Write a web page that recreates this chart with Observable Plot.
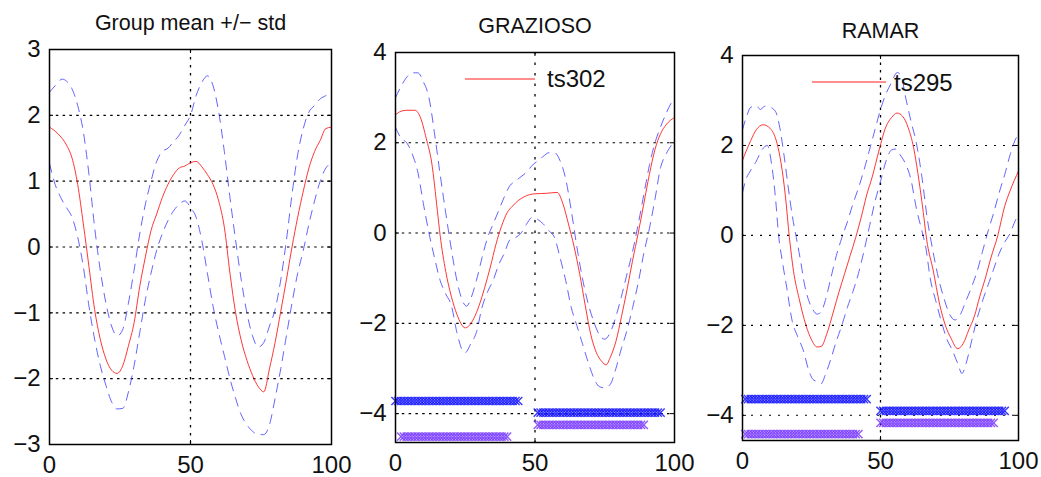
<!DOCTYPE html>
<html>
<head>
<meta charset="utf-8">
<script src="https://cdn.jsdelivr.net/npm/d3@7"></script>
<script src="https://cdn.jsdelivr.net/npm/@observablehq/plot@0.6"></script>
<style>
  body { margin: 0; background: #fff; }
  #chart { position: relative; width: 1041px; height: 477px; overflow: hidden; background: #fff;
           font-family: "Liberation Sans", Arial, sans-serif; }
  .panel { position: absolute; top: 0; }
  #legend { position: absolute; left: 0; top: 0; pointer-events: none; }
</style>
</head>
<body>
<div id="chart"></div>
<script>
// ---- axes ----
const xTicks = [0, 50, 100];
const groupYTicks = [-3, -2, -1, 0, 1, 2, 3];
const pieceYTicks = [-4, -2, 0, 2, 4];
const titles = ["Group mean +/\u2212 std", "GRAZIOSO", "RAMAR"];
const legendLabels = ["ts302", "ts295"];

// ---- group mean +/- std ----
const groupMeanX = [0, 3, 6, 8, 10, 12, 14, 16, 18, 20, 22, 24, 26, 28, 30, 32, 34, 36, 38, 40, 42, 44, 46, 48, 50,
  52, 54, 56, 58, 60, 62, 64, 66, 68, 70, 72, 74, 76, 78, 80, 82, 84, 86, 88, 90, 92, 94, 96, 98, 100];
const groupMeanY = [1.82, 1.72, 1.55, 1.35, 0.95, 0.35, -0.3, -0.95, -1.4, -1.7, -1.87, -1.92, -1.8, -1.5, -1.15,
  -0.6, -0.15, 0.25, 0.5, 0.75, 0.95, 1.1, 1.2, 1.23, 1.28, 1.3, 1.22, 1.1, 0.95, 0.7, 0.3, -0.4, -1.0, -1.42,
  -1.72, -1.95, -2.12, -2.2, -1.85, -1.45, -0.98, -0.5, 0.0, 0.45, 0.85, 1.2, 1.45, 1.62, 1.8, 1.82];
const groupUpperX = [0, 2, 4.5, 6, 8, 10, 12, 14, 16, 18, 20, 22, 24, 26, 28, 30, 32, 34, 36, 38, 40, 42, 44, 46, 48,
  50, 52, 54, 56, 58, 60, 62, 64, 66, 68, 70, 72, 74, 76, 78, 80, 82, 84, 86, 88, 90, 92, 94, 96, 98, 100];
const groupUpperY = [2.35, 2.45, 2.55, 2.52, 2.4, 2.15, 1.75, 1.1, 0.3, -0.35, -0.85, -1.2, -1.35, -1.25, -0.85,
  -0.35, 0.2, 0.65, 1.0, 1.3, 1.45, 1.5, 1.6, 1.7, 1.85, 2.0, 2.3, 2.5, 2.6, 2.45, 2.05, 1.45, 0.75, 0.1, -0.5,
  -1.0, -1.35, -1.52, -1.45, -1.2, -0.95, -0.5, 0.1, 0.8, 1.4, 1.8, 2.05, 2.15, 2.25, 2.3, 2.35];
const groupLowerX = d3.range(0, 101, 2);
const groupLowerY = [1.27, 0.95, 0.75, 0.6, 0.45, 0.15, -0.3, -0.9, -1.4, -1.8, -2.1, -2.35, -2.46, -2.45, -2.2,
  -1.8, -1.3, -0.8, -0.4, -0.05, 0.2, 0.4, 0.55, 0.65, 0.7, 0.6, 0.45, 0.1, -0.4, -0.9, -1.3, -1.65, -2.0, -2.3,
  -2.55, -2.7, -2.8, -2.85, -2.85, -2.7, -2.3, -1.85, -1.35, -0.85, -0.4, -0.05, 0.35, 0.7, 1.0, 1.2, 1.27];

// ---- GRAZIOSO: ts302 against group band ----
const grazTsX = [0, 2, 4, 7, 9, 11, 13, 15, 16, 18, 20, 22, 25, 28, 30, 32, 34, 36, 38, 40, 42, 44, 46, 48, 50,
  54, 58, 60, 62, 64, 66, 68, 70, 72, 74, 75.5, 77, 79, 81, 83, 85, 87, 89, 91, 93, 95, 97, 100];
const grazTsY = [2.62, 2.7, 2.72, 2.72, 2.55, 2.1, 1.55, 0.5, -0.05, -0.85, -1.4, -1.8, -2.1, -1.9, -1.6, -1.2,
  -0.75, -0.25, 0.15, 0.45, 0.6, 0.72, 0.8, 0.85, 0.87, 0.88, 0.9, 0.65, 0.2, -0.3, -0.9, -1.6, -2.25, -2.65,
  -2.85, -2.92, -2.75, -2.4, -1.85, -1.25, -0.6, 0.0, 0.65, 1.3, 1.85, 2.2, 2.4, 2.56];
const grazUpperX = [0, 2, 4, 6, 8, 10, 12, 14, 16, 18, 20, 22, 24, 25.5, 27, 29, 31, 33, 35, 37, 39, 41, 43, 45,
  47, 49, 51, 53, 55, 57, 59, 61, 63, 65, 67, 69, 71, 73, 75, 77, 79, 81, 83, 85, 87, 89, 91, 93, 95, 97, 99, 100];
const grazUpperY = [3.0, 3.25, 3.45, 3.55, 3.55, 3.35, 3.0, 2.2, 1.3, 0.45, -0.35, -1.05, -1.5, -1.62, -1.45,
  -1.05, -0.55, -0.1, 0.2, 0.5, 0.8, 1.05, 1.15, 1.25, 1.35, 1.5, 1.6, 1.7, 1.78, 1.78, 1.6, 1.2, 0.5, -0.3, -1.0,
  -1.55, -1.95, -2.25, -2.35, -2.2, -1.85, -1.4, -0.9, -0.4, 0.2, 0.85, 1.5, 2.0, 2.35, 2.65, 2.9, 2.98];
const grazLowerX = [0, 2, 4, 6, 8, 10, 12, 14, 16, 18, 20, 22, 24, 25, 27, 29, 31, 33, 35, 37, 39, 41, 43, 45,
  47, 49, 51, 53, 55, 57, 59, 61, 63, 65, 67, 69, 71, 73, 75, 77, 79, 81, 83, 85, 87, 89, 91, 93, 95, 97, 99, 100];
const grazLowerY = [2.34, 2.1, 2.0, 1.75, 1.35, 0.65, 0.0, -0.55, -1.05, -1.35, -1.6, -2.2, -2.6, -2.65, -2.45,
  -2.2, -1.65, -1.3, -1.05, -0.7, -0.45, -0.15, -0.1, 0.0, 0.2, 0.35, 0.3, 0.2, 0.05, -0.1, -0.55, -1.05, -1.65,
  -2.05, -2.45, -2.85, -3.2, -3.4, -3.43, -3.35, -3.0, -2.55, -2.15, -1.65, -1.1, -0.45, 0.1, 0.75, 1.45, 1.75,
  1.95, 2.0];
// segment rows under the curves (kind A = blue, kind B = violet)
const grazSegKind = ["A", "B", "A", "B"];
const grazSegLevel = [-3.72, -4.51, -3.98, -4.25];
const grazSegStart = [0, 2, 51, 51];
const grazSegEnd = [44, 40, 95, 89];

// ---- RAMAR: ts295 against group band ----
const ramarTsX = [0, 3, 5, 7.5, 10, 12.5, 14, 15.5, 17, 18.5, 20.5, 23, 25, 27, 28.5, 30.5, 33, 35, 37, 39, 41,
  43, 45, 47, 49.5, 52, 54, 56, 58, 60, 62, 63.5, 65, 67, 69, 71.5, 73.5, 75.5, 78, 80, 82, 84, 86, 88, 90, 92.5,
  95, 97, 100];
const ramarTsY = [1.67, 2.11, 2.35, 2.46, 2.38, 2.05, 1.6, 0.9, -0.05, -0.8, -1.4, -2.0, -2.32, -2.48, -2.47,
  -2.2, -1.68, -1.25, -0.85, -0.45, -0.05, 0.4, 0.9, 1.3, 1.9, 2.42, 2.62, 2.72, 2.65, 2.4, 1.95, 1.4, 0.75, -0.2,
  -0.75, -1.55, -2.0, -2.28, -2.52, -2.4, -2.1, -1.8, -1.35, -0.95, -0.5, 0.0, 0.65, 1.0, 1.43];
const ramarUpperX = [0, 1.5, 3, 5, 6.5, 8, 10, 12, 13.5, 15, 16.5, 18, 19.5, 21, 22.5, 24, 25.5, 27, 28.5, 30, 32,
  34, 36, 38, 40, 42, 44, 46, 48, 50, 52, 54, 56, 57.5, 59, 61, 63, 65, 67, 69, 71, 73, 75, 77, 79, 81, 83, 85, 87,
  89, 91, 93, 95, 97, 99, 100];
const ramarUpperY = [2.35, 2.65, 2.85, 2.88, 2.8, 2.87, 2.85, 2.75, 2.4, 1.8, 1.1, 0.45, -0.05, -0.55, -1.1, -1.45,
  -1.65, -1.75, -1.7, -1.45, -0.95, -0.45, -0.05, 0.3, 0.7, 1.05, 1.45, 1.9, 2.35, 2.8, 3.15, 3.4, 3.62, 3.55, 3.1,
  2.55, 2.05, 1.3, 0.35, -0.35, -0.95, -1.4, -1.75, -1.88, -1.75, -1.45, -1.15, -0.8, -0.35, 0.1, 0.5, 0.95, 1.35,
  1.8, 2.15, 2.25];
const ramarLowerX = [0, 1, 3, 5, 7, 9, 10.5, 12, 13, 14.5, 16, 18, 20, 22, 24, 25.5, 27, 28.5, 30, 32, 34, 36, 38,
  40, 42, 44, 46, 48, 50, 52, 54, 55.5, 57, 59, 61, 63, 65, 66.5, 68, 70, 72, 74, 76, 78, 79.5, 81, 83, 85, 87, 89,
  91, 93, 95, 97, 99, 100];
const ramarLowerY = [0.95, 1.2, 1.45, 1.65, 1.9, 2.0, 1.6, 0.8, 0.05, -0.6, -1.15, -1.9, -2.25, -2.55, -3.0, -3.2,
  -3.25, -3.3, -3.1, -2.75, -2.35, -2.0, -1.6, -1.25, -0.85, -0.35, 0.2, 0.75, 1.2, 1.65, 1.9, 1.92, 1.8, 1.6,
  1.25, 0.6, 0.1, -0.3, -0.95, -1.45, -1.9, -2.3, -2.55, -2.85, -3.07, -2.85, -2.35, -1.85, -1.45, -1.1, -0.75,
  -0.4, -0.15, 0.05, 0.35, 0.45];
const ramarSegKind = ["A", "B", "A", "B"];
const ramarSegLevel = [-3.64, -4.42, -3.9, -4.17];
const ramarSegStart = [1, 1, 50, 50];
const ramarSegEnd = [45, 42, 95, 91];

// ---- drawing ----
const PAGE_H = 477;
const FONT = "'Liberation Sans', Arial, Helvetica, sans-serif";
const RED = "#ff2020";
const BLUE = "#3030ff";
const KIND_COLOR = {A: "#1414ff", B: "#7a3cff"};
const fmt = d => (d < 0 ? "\u2212" + Math.abs(d) : String(d));
const pts = (xs, ys) => xs.map((x, i) => ({x, y: ys[i]}));

function segmentDots(kind, level, start, end) {
  const out = [];
  kind.forEach((k, i) => {
    for (const x of d3.range(start[i], end[i] + 1)) out.push({x, y: level[i], kind: k});
  });
  return out;
}

function panel(cfg) {
  const fw = cfg.width - cfg.marginLeft - cfg.marginRight;
  const fh = PAGE_H - cfg.marginTop - cfg.marginBottom;
  const inner = cfg.yTicks.filter(v => v > cfg.yDomain[0] && v < cfg.yDomain[1]);
  const marks = [
    Plot.gridY(inner, {stroke: "#000", strokeOpacity: 1, strokeWidth: 1.1, strokeDasharray: cfg.hDash}),
    Plot.gridX([50], {stroke: "#000", strokeOpacity: 1, strokeWidth: 1.3, strokeDasharray: cfg.vDash}),
    // inward tick marks on all four sides
    Plot.tickY(cfg.yTicks, {insetRight: fw - 4, stroke: "#000"}),
    Plot.tickY(cfg.yTicks, {insetLeft: fw - 4, stroke: "#000"}),
    Plot.tickX(xTicks, {insetTop: fh - 4, stroke: "#000"}),
    Plot.tickX(xTicks, {insetBottom: fh - 4, stroke: "#000"}),
    Plot.axisX(xTicks, {tickSize: 0, tickPadding: 11, tickFormat: fmt, label: null}),
    Plot.axisY(cfg.yTicks, {tickSize: 0, tickPadding: 9, tickFormat: fmt, label: null})
  ];
  if (cfg.segments) {
    for (const k of ["A", "B"]) {
      marks.push(Plot.dot(cfg.segments.filter(d => d.kind === k), {
        x: "x", y: "y", symbol: "times", r: 3.8, stroke: KIND_COLOR[k], strokeWidth: 1.4, strokeOpacity: 0.85
      }));
    }
  }
  for (const s of [cfg.upper, cfg.lower]) {
    marks.push(Plot.line(s, {x: "x", y: "y", curve: "monotone-x", stroke: BLUE, strokeWidth: 1,
      strokeOpacity: 0.75, strokeDasharray: "9,7"}));
  }
  marks.push(Plot.line(cfg.main, {x: "x", y: "y", curve: "monotone-x", stroke: RED, strokeWidth: 1,
    strokeOpacity: 0.9}));
  marks.push(Plot.frame({stroke: "#000", strokeWidth: 1.5}));
  marks.push(Plot.text([cfg.title], {frameAnchor: "top", dy: -cfg.titleGap, lineAnchor: "bottom",
    fontSize: 21.5, fill: "#111"}));

  const svg = Plot.plot({
    width: cfg.width,
    height: PAGE_H,
    marginLeft: cfg.marginLeft,
    marginRight: cfg.marginRight,
    marginTop: cfg.marginTop,
    marginBottom: cfg.marginBottom,
    x: {domain: [0, 100], label: null},
    y: {domain: cfg.yDomain, label: null},
    style: {fontFamily: FONT, fontSize: "24px", color: "#111", background: "transparent", overflow: "visible"},
    marks
  });
  const wrap = document.createElement("div");
  wrap.className = "panel";
  wrap.style.left = cfg.left + "px";
  wrap.appendChild(svg);
  document.getElementById("chart").appendChild(wrap);
}

panel({
  left: 0, width: 350, marginLeft: 49, marginRight: 19, marginTop: 49, marginBottom: 33,
  yDomain: [-3, 3], yTicks: groupYTicks, title: titles[0], titleGap: 20,
  hDash: "2.5,4.3", vDash: "2.5,5.5",
  main: pts(groupMeanX, groupMeanY), upper: pts(groupUpperX, groupUpperY), lower: pts(groupLowerX, groupLowerY)
});
panel({
  left: 350, width: 345, marginLeft: 45, marginRight: 21, marginTop: 52, marginBottom: 35,
  yDomain: [-4.64, 4], yTicks: pieceYTicks, title: titles[1], titleGap: 20,
  hDash: "2.5,4.3", vDash: "2.5,8",
  main: pts(grazTsX, grazTsY), upper: pts(grazUpperX, grazUpperY), lower: pts(grazLowerX, grazLowerY),
  segments: segmentDots(grazSegKind, grazSegLevel, grazSegStart, grazSegEnd)
});
panel({
  left: 695, width: 346, marginLeft: 47, marginRight: 23, marginTop: 55, marginBottom: 37,
  yDomain: [-4.56, 4], yTicks: pieceYTicks, title: titles[2], titleGap: 18,
  hDash: "2,7", vDash: "2.5,5",
  main: pts(ramarTsX, ramarTsY), upper: pts(ramarUpperX, ramarUpperY), lower: pts(ramarLowerX, ramarLowerY),
  segments: segmentDots(ramarSegKind, ramarSegLevel, ramarSegStart, ramarSegEnd)
});

// legends for the single-series panels (drawn over the axes, no box)
const ns = "http://www.w3.org/2000/svg";
const leg = document.createElementNS(ns, "svg");
leg.setAttribute("id", "legend");
leg.setAttribute("width", 1041);
leg.setAttribute("height", PAGE_H);
const legendSpots = [
  {x1: 465, x2: 535, y: 79, tx: 547, ty: 87},
  {x1: 812, x2: 886, y: 82, tx: 894, ty: 91}
];
legendSpots.forEach((p, i) => {
  const ln = document.createElementNS(ns, "line");
  ln.setAttribute("x1", p.x1); ln.setAttribute("x2", p.x2);
  ln.setAttribute("y1", p.y); ln.setAttribute("y2", p.y);
  ln.setAttribute("stroke", RED); ln.setAttribute("stroke-width", 1.2);
  leg.appendChild(ln);
  const tx = document.createElementNS(ns, "text");
  tx.setAttribute("x", p.tx); tx.setAttribute("y", p.ty);
  tx.setAttribute("font-family", FONT); tx.setAttribute("font-size", 24); tx.setAttribute("fill", "#111");
  tx.textContent = legendLabels[i];
  leg.appendChild(tx);
});
document.getElementById("chart").appendChild(leg);
</script>
</body>
</html>
